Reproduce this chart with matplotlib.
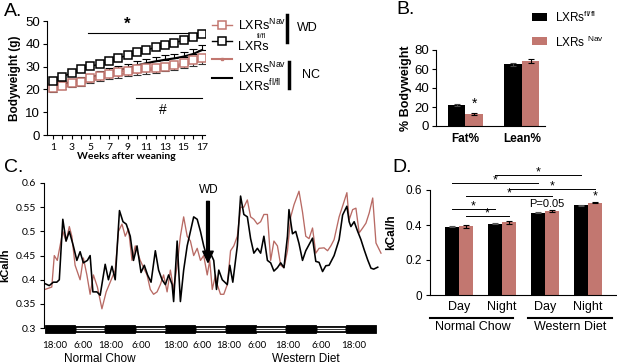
import numpy as np
import matplotlib
matplotlib.use('Agg')
import matplotlib.pyplot as plt
from matplotlib.patches import Rectangle
from matplotlib.lines import Line2D
from matplotlib import transforms

plt.rcParams['font.family'] = ['Liberation Sans', 'DejaVu Sans']
plt.rcParams['mathtext.fontset'] = 'custom'
plt.rcParams['mathtext.rm'] = 'Liberation Sans'
plt.rcParams['mathtext.it'] = 'Liberation Sans:italic'
plt.rcParams['mathtext.bf'] = 'Liberation Sans:bold'

RED = '#c27770'
LINE_RED = '#b86a64'
CALIBRI = ['Lato', 'DejaVu Sans']

# ---------------- A: bodyweight ----------------
weeks = np.arange(1, 18)
wd_flfl = [23.5, 25.5, 27.3, 28.9, 30.2, 31.0, 32.3, 33.7, 35.0, 36.2, 37.2, 38.5, 39.4, 40.4, 41.6, 42.8, 44.3]
wd_flfl_err = [1.0, 1.0, 1.0, 1.0, 1.1, 1.1, 1.1, 1.2, 1.2, 1.2, 1.2, 1.3, 1.3, 1.3, 1.3, 1.3, 1.4]
wd_nav = [20.4, 21.5, 22.6, 23.4, 24.8, 25.8, 26.7, 27.7, 28.2, 28.8, 29.2, 29.5, 29.9, 30.7, 31.4, 32.8, 33.6]
wd_nav_err = [0.8, 0.8, 0.9, 0.9, 0.9, 1.0, 1.0, 1.0, 1.0, 1.1, 1.1, 1.1, 1.1, 1.1, 1.2, 1.2, 1.2]
nc_flfl = [21.9, 22.5, 23.2, 24.0, 25.0, 26.5, 27.5, 28.5, 29.3, 30.5, 31.5, 32.3, 33.0, 33.6, 34.4, 35.5, 37.3]
nc_flfl_err = [1.2, 1.3, 1.4, 1.4, 1.5, 1.6, 1.7, 1.7, 1.8, 1.8, 1.9, 1.9, 2.0, 2.0, 2.0, 2.1, 2.1]
nc_nav = [20.0, 21.0, 22.0, 22.8, 23.8, 24.8, 25.7, 26.5, 27.3, 27.8, 28.3, 28.8, 29.3, 30.0, 30.8, 31.8, 32.7]
nc_nav_err = [1.0, 1.0, 1.1, 1.1, 1.2, 1.2, 1.2, 1.3, 1.3, 1.3, 1.4, 1.4, 1.4, 1.4, 1.5, 1.5, 1.5]

# ---------------- B: body composition ----------------
comp_labels = ['Fat%', 'Lean%']
comp_flfl = [22.5, 65.0]
comp_flfl_err = [1.0, 1.5]
comp_nav = [13.0, 68.5]
comp_nav_err = [1.2, 2.5]

# ---------------- C: energy expenditure trace ----------------
hours_flfl = [0.0, 1.7, 3.3, 4.7, 5.7, 7.1, 8.4, 9.7, 11.3, 12.7, 14.0, 15.3, 16.9, 18.0, 19.1, 20.7,
              22.0, 24.0, 25.3, 26.7, 28.0, 29.7, 31.1, 32.4, 34.0, 35.3, 36.7, 38.3, 39.6, 40.9, 42.3,
              44.0, 45.3, 46.7, 48.0, 49.3, 50.7, 51.3, 52.7, 54.0, 55.3, 56.7, 58.0, 59.3, 60.7, 62.0,
              63.3, 64.7, 66.0, 67.3, 68.4, 69.3, 70.7, 72.7, 73.7, 74.9, 76.7, 78.0, 79.3, 80.7, 82.0,
              83.3, 84.7, 86.0, 87.3, 88.7, 90.0, 91.3, 92.7, 94.0, 95.3, 96.7, 97.3, 98.7, 100.0, 101.3,
              102.7, 104.0, 106.7, 108.0, 109.3, 110.7, 112.0, 113.3, 115.3, 117.3, 118.7, 120.4, 121.3,
              122.0, 123.3, 124.7, 126.0, 127.3, 128.7, 130.0, 131.1, 132.7]
kcal_flfl = [0.392, 0.388, 0.395, 0.395, 0.400, 0.525, 0.480, 0.500, 0.470, 0.440, 0.458, 0.435, 0.440,
             0.450, 0.375, 0.375, 0.368, 0.432, 0.400, 0.428, 0.400, 0.543, 0.520, 0.515, 0.490, 0.440,
             0.470, 0.415, 0.430, 0.410, 0.395, 0.460, 0.420, 0.400, 0.390, 0.410, 0.390, 0.355, 0.480,
             0.355, 0.420, 0.470, 0.500, 0.530, 0.525, 0.500, 0.470, 0.445, 0.455, 0.440, 0.380, 0.420,
             0.400, 0.390, 0.430, 0.395, 0.470, 0.573, 0.535, 0.530, 0.485, 0.455, 0.465, 0.455, 0.490,
             0.440, 0.435, 0.418, 0.425, 0.435, 0.425, 0.490, 0.545, 0.495, 0.500, 0.475, 0.440, 0.460,
             0.486, 0.438, 0.436, 0.417, 0.429, 0.430, 0.450, 0.483, 0.534, 0.552, 0.520, 0.510, 0.520,
             0.500, 0.483, 0.462, 0.441, 0.424, 0.422, 0.426]
hours_nav = [0.0, 2.7, 3.7, 4.9, 7.1, 8.4, 9.7, 10.7, 12.0, 14.0, 15.3, 16.7, 18.0, 19.3, 20.9, 22.7,
             24.4, 26.0, 28.0, 29.3, 30.7, 32.0, 33.3, 34.7, 36.0, 38.0, 39.3, 40.7, 42.0, 43.3, 44.7,
             46.0, 47.3, 48.7, 50.0, 51.3, 52.7, 54.0, 55.3, 56.7, 58.0, 59.3, 60.7, 62.0, 63.3, 64.7,
             65.7, 66.7, 68.0, 68.7, 70.0, 71.3, 72.7, 74.0, 75.3, 76.7, 78.0, 79.3, 80.7, 82.0, 83.3,
             84.7, 86.0, 87.3, 88.7, 90.0, 91.3, 92.7, 94.0, 95.3, 96.7, 98.0, 99.3, 101.3, 102.7, 104.0,
             105.3, 106.7, 108.0, 109.3, 111.3, 112.7, 114.0, 115.3, 117.3, 119.3, 120.4, 121.3, 122.7,
             124.0, 125.3, 126.7, 128.0, 129.3, 130.7, 132.0, 134.0]
kcal_nav = [0.380, 0.385, 0.450, 0.440, 0.500, 0.480, 0.510, 0.490, 0.430, 0.400, 0.445, 0.410, 0.370,
            0.410, 0.385, 0.340, 0.375, 0.395, 0.420, 0.500, 0.515, 0.490, 0.505, 0.440, 0.470, 0.440,
            0.425, 0.410, 0.380, 0.370, 0.375, 0.390, 0.410, 0.375, 0.420, 0.380, 0.430, 0.490, 0.530,
            0.490, 0.480, 0.450, 0.465, 0.440, 0.450, 0.410, 0.440, 0.380, 0.410, 0.390, 0.370, 0.370,
            0.390, 0.460, 0.470, 0.490, 0.550, 0.550, 0.565, 0.530, 0.525, 0.515, 0.520, 0.535, 0.535,
            0.440, 0.480, 0.470, 0.430, 0.425, 0.460, 0.530, 0.555, 0.583, 0.540, 0.490, 0.485, 0.507,
            0.455, 0.465, 0.466, 0.460, 0.470, 0.483, 0.530, 0.562, 0.580, 0.524, 0.545, 0.548, 0.497,
            0.507, 0.517, 0.538, 0.569, 0.476, 0.455]
phase_starts = [0, 12, 24, 36, 48, 60, 72, 84, 96, 108, 120]
phase_dark = [True, False, True, False, True, False, True, False, True, False, True]
time_label_hours = [4.0, 15.0, 26.0, 38.4, 52.0, 62.8, 73.4, 84.4, 96.6, 110.0, 123.2]
time_labels = ['18:00', '6:00', '18:00', '6:00', '18:00', '6:00', '18:00', '6:00', '18:00', '6:00', '18:00']
wd_switch_hour = 65

# ---------------- D: mean energy expenditure ----------------
d_labels = ['Day', 'Night', 'Day', 'Night']
d_flfl = [0.390, 0.408, 0.470, 0.513]
d_flfl_err = [0.003, 0.004, 0.003, 0.004]
d_nav = [0.393, 0.415, 0.478, 0.528]
d_nav_err = [0.008, 0.008, 0.005, 0.005]

fig = plt.figure(figsize=(6.17, 3.64), dpi=100)


def px_axes(left, top, right, bottom):
    return fig.add_axes([left / 617, 1 - bottom / 364, (right - left) / 617, (bottom - top) / 364])


# ===== Panel A =====
axA = px_axes(47, 21, 205, 135)
axA.errorbar(weeks, nc_flfl, yerr=[np.zeros(17), nc_flfl_err], color='black', lw=1.5,
             capsize=3, elinewidth=0.8, capthick=0.8, zorder=2)
axA.errorbar(weeks, nc_nav, yerr=[nc_nav_err, np.zeros(17)], color=RED, lw=1.5, marker='s',
             ms=2, ecolor='#333333', capsize=3, elinewidth=0.8, capthick=0.8, zorder=2)
axA.errorbar(weeks, wd_nav, yerr=wd_nav_err, color=RED, lw=1, marker='s', ms=5.5, mfc='white',
             mec=RED, mew=1.1, capsize=2, elinewidth=0.7, zorder=3)
axA.errorbar(weeks, wd_flfl, yerr=wd_flfl_err, color='black', lw=1, marker='s', ms=5.5, mfc='white',
             mec='black', mew=1.1, capsize=2, elinewidth=0.7, zorder=4)
axA.plot([4.8, 17.1], [44.9, 44.9], color='black', lw=0.8)
axA.text(8.9, 48.5, '*', ha='center', va='center', fontsize=12, fontweight='bold')
axA.plot([9.9, 17.0], [16.4, 16.4], color='black', lw=0.8)
axA.text(12.8, 11, '#', ha='center', va='center', fontsize=10)
axA.set_xlim(0.35, 17.3)
axA.set_ylim(0, 50)
axA.set_xticks(np.arange(1, 18, 2))
axA.set_xticks(weeks, minor=True)
axA.set_xticklabels([str(w) for w in range(1, 18, 2)], family=CALIBRI, fontsize=7.5)
axA.set_yticks([0, 10, 20, 30, 40, 50])
axA.tick_params(axis='y', labelsize=9.5, length=3, width=0.8, pad=2)
axA.tick_params(axis='x', which='both', length=3, width=0.8, pad=3)
axA.set_xlabel('Weeks after weaning', family=CALIBRI, fontweight='bold', fontsize=7.5, labelpad=0)
axA.set_ylabel('Bodyweight (g)', fontweight='bold', fontsize=8.5, labelpad=3)
for s in ['top', 'right']:
    axA.spines[s].set_visible(False)

# ===== Panel B =====
axB = px_axes(436, 50, 545, 126)
xb = np.arange(len(comp_labels))
bw = 0.31
axB.bar(xb - bw / 2, comp_flfl, bw, color='black', yerr=comp_flfl_err, capsize=2.5,
        error_kw=dict(elinewidth=0.8, capthick=0.8, ecolor='#444444'))
axB.bar(xb + bw / 2, comp_nav, bw, color=RED, yerr=comp_nav_err, capsize=2.5,
        error_kw=dict(elinewidth=0.8, capthick=0.8, ecolor='black'))
axB.text(xb[0] + bw / 2, comp_nav[0] + 3, '*', ha='center', va='bottom', fontsize=10)
axB.set_xlim(-0.52, 1.41)
axB.set_ylim(0, 80)
axB.set_yticks([0, 20, 40, 60, 80])
axB.set_xticks(xb)
axB.set_xticklabels(comp_labels, fontweight='bold', fontsize=8.5)
axB.tick_params(axis='x', length=0, pad=5)
axB.tick_params(axis='y', labelsize=9.5, length=3, width=0.8, pad=2)
axB.set_ylabel('% Bodyweight', fontweight='bold', fontsize=9, labelpad=2)
for s in ['top', 'right']:
    axB.spines[s].set_visible(False)

# ===== Panel C =====
axC = px_axes(44, 183, 385, 333)
axC.plot(hours_flfl, kcal_flfl, color='black', lw=1.15, zorder=3)
axC.plot(hours_nav, kcal_nav, color=LINE_RED, lw=0.95, zorder=2)
for start, dark in zip(phase_starts, phase_dark):
    if dark:
        axC.add_patch(Rectangle((start, 0.2905), 12, 0.016, facecolor='black', edgecolor='black',
                                lw=0.6, clip_on=False, zorder=4))
    else:
        axC.add_patch(Rectangle((start, 0.2925), 12, 0.0125, facecolor='black', edgecolor='black',
                                lw=0.6, clip_on=False, zorder=4))
        axC.hlines([0.2965, 0.3010], start + 0.3, start + 11.7, colors='white', lw=0.9, zorder=5,
                   clip_on=False)
axC.annotate('', xy=(wd_switch_hour, 0.436), xytext=(wd_switch_hour, 0.562),
             arrowprops=dict(facecolor='black', edgecolor='black', width=2.0, headwidth=7.5,
                             headlength=8, shrink=0), zorder=6)
axC.text(wd_switch_hour + 0.5, 0.585, 'WD', ha='center', va='center', fontsize=8.5)
axC.set_xlim(-0.4, 135.6)
axC.set_ylim(0.29, 0.6)
axC.set_yticks([0.3, 0.35, 0.4, 0.45, 0.5, 0.55, 0.6])
axC.set_yticklabels(['0.3', '0.35', '0.4', '0.45', '0.5', '0.55', '0.6'], family=CALIBRI, fontsize=7.5)
axC.spines['left'].set_bounds(0.3, 0.6)
axC.set_xticks(time_label_hours)
axC.set_xticklabels(time_labels, family=CALIBRI, fontsize=7)
axC.tick_params(axis='x', length=0, pad=6)
axC.tick_params(axis='y', length=3, width=0.8, pad=3)
axC.set_ylabel('kCal/h', fontweight='bold', fontsize=8)
axC.yaxis.set_label_coords(-0.098, 0.45)
for s in ['top', 'right', 'bottom']:
    axC.spines[s].set_visible(False)
trC = transforms.blended_transform_factory(axC.transData, axC.transAxes)
axC.text(22, -0.17, 'Normal Chow', transform=trC, ha='center', va='center', fontsize=8.5)
axC.text(104, -0.17, 'Western Diet', transform=trC, ha='center', va='center', fontsize=8.5)

# ===== Panel D =====
axD = px_axes(430, 169, 617, 295)
xd = np.arange(len(d_labels))
off = 0.16
dw = 0.32
axD.bar(xd - off, d_flfl, dw, color='black', yerr=d_flfl_err, capsize=2,
        error_kw=dict(elinewidth=0.8, capthick=0.8, ecolor='#555555'))
axD.bar(xd + off, d_nav, dw, color=RED, yerr=d_nav_err, capsize=2,
        error_kw=dict(elinewidth=0.8, capthick=0.8, ecolor='black'))
sig_pairs = [(xd[1] - off, xd[3] - off, 0.686), (xd[0] - off, xd[2] - off, 0.640),
             (xd[1] + off, xd[3] + off, 0.606), (xd[0] + off, xd[2] + off, 0.566),
             (xd[0] - off, xd[1] - off, 0.491), (xd[0] + off, xd[1] + off, 0.451)]
for x0, x1, yl in sig_pairs:
    axD.plot([x0, x1], [yl, yl], color='black', lw=0.7, clip_on=False)
    axD.text((x0 + x1) / 2, yl - 0.022, '*', ha='center', va='bottom', fontsize=9)
axD.text(xd[2] + 0.05, 0.52, 'P=0.05', ha='center', va='center', fontsize=8)
axD.text(xd[3] + off, d_nav[3] + 0.002, '*', ha='center', va='bottom', fontsize=9)
axD.set_xlim(-0.67, 3.67)
axD.set_ylim(0, 0.72)
axD.set_yticks([0, 0.2, 0.4, 0.6])
axD.set_yticklabels(['0', '0.2', '0.4', '0.6'])
axD.spines['left'].set_bounds(0, 0.6)
axD.set_xticks(xd)
axD.set_xticklabels(d_labels, fontsize=9)
axD.tick_params(axis='x', length=0, pad=4)
axD.tick_params(axis='y', labelsize=8.5, length=3, width=0.8, pad=3)
axD.set_ylabel('kCal/h', fontweight='bold', fontsize=8.5, labelpad=6)
for s in ['top', 'right']:
    axD.spines[s].set_visible(False)
trD = transforms.blended_transform_factory(axD.transData, axD.transAxes)
axD.plot([-0.67, 1.26], [-0.18, -0.18], transform=trD, color='black', lw=1.5, clip_on=False)
axD.plot([1.6, 3.56], [-0.18, -0.18], transform=trD, color='black', lw=1.5, clip_on=False)
axD.text(0.33, -0.255, 'Normal Chow', transform=trD, ha='center', va='center', fontsize=9)
axD.text(2.58, -0.255, 'Western Diet', transform=trD, ha='center', va='center', fontsize=9)

# ===== overlay: panel letters and legends =====
ov = fig.add_axes([0, 0, 1, 1], zorder=10)
ov.set_xlim(0, 617)
ov.set_ylim(364, 0)
ov.axis('off')
ov.patch.set_alpha(0)
for lbl, x, y in [('A.', 4, 12), ('B.', 396, 10), ('C.', 4, 167), ('D.', 392, 167)]:
    ov.text(x, y, lbl, fontsize=14, ha='left', va='center')

# legend A
ov.add_line(Line2D([212, 232], [25, 25], color=RED, lw=1))
ov.plot([222], [25], marker='s', ms=5.5, mfc='white', mec=RED, mew=1.1)
ov.add_line(Line2D([212, 232], [41, 41], color='black', lw=1))
ov.plot([222], [41], marker='s', ms=5.5, mfc='white', mec='black', mew=1.1)
ov.add_line(Line2D([212, 232], [59, 59], color=RED, lw=1.5))
ov.plot([222], [59], marker='s', ms=2, color=RED)
ov.add_line(Line2D([212, 232], [78, 78], color='black', lw=1.5))
ov.text(238, 25, r'LXRs$^{\mathrm{Nav}}$', fontsize=9, va='center')
ov.text(238, 47, 'LXRs', fontsize=9, va='center')
ov.text(257, 37, 'fl/fl', fontsize=5, va='center')
ov.text(238, 68, r'LXRs$^{\mathrm{Nav}}$', fontsize=9, va='center')
ov.text(238, 86, r'LXRs$^{\mathrm{fl/fl}}$', fontsize=9, va='center')
ov.add_line(Line2D([287, 287], [15, 42], color='black', lw=2.5))
ov.text(297, 28, 'WD', fontsize=9, va='center')
ov.add_line(Line2D([289, 289], [62, 88], color='black', lw=2.5))
ov.text(302, 75, 'NC', fontsize=9, va='center')

# legend B
ov.add_patch(Rectangle((532, 13), 15, 8, facecolor='black'))
ov.add_patch(Rectangle((532, 37), 15, 8, facecolor=RED))
ov.text(555, 17, r'LXRs$^{\mathrm{fl/fl}}$', fontsize=8.5, va='center')
ov.text(555, 42, r'LXRs $^{\mathrm{Nav}}$', fontsize=8.5, va='center')

fig.savefig('out.png', dpi=100)
